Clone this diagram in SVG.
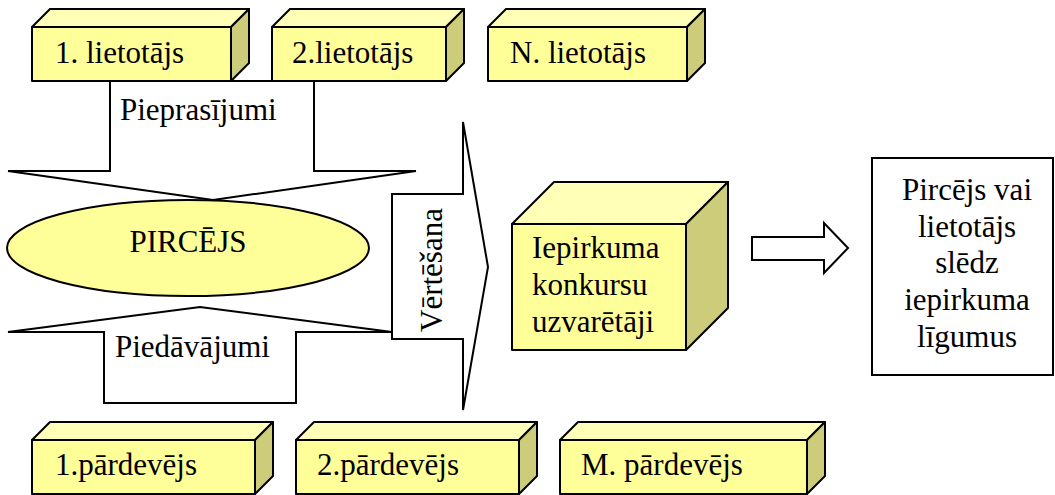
<svg xmlns="http://www.w3.org/2000/svg" width="1055" height="495" viewBox="0 0 1055 495" font-family="'Liberation Serif', Tinos, 'Times New Roman', 'DejaVu Serif', serif">
<style>
text{font-family:'Liberation Serif',Tinos,'Times New Roman','DejaVu Serif',serif;font-size:31px;fill:#000}
.front{fill:#FFFF99;stroke:#000;stroke-width:2;stroke-linejoin:round}
.top{fill:#FFFFB8;stroke:#000;stroke-width:2;stroke-linejoin:round}
.side{fill:#CCCC7A;stroke:#000;stroke-width:2;stroke-linejoin:round}
.shape{fill:#fff;stroke:#000;stroke-width:2;stroke-linejoin:miter}
.mid{text-anchor:middle}
</style>
<rect width="1055" height="495" fill="#fff"/>
<g id="user1">
<polygon class="top" points="32,27 50,9 249,9 231,27"/>
<polygon class="side" points="231,27 249,9 249,63 231,81"/>
<rect class="front" x="32" y="27" width="199" height="54"/>
<text x="55" y="63">1. lietotājs</text>
</g>
<g id="user2">
<polygon class="top" points="272,27 290,9 464,9 446,27"/>
<polygon class="side" points="446,27 464,9 464,63 446,81"/>
<rect class="front" x="272" y="27" width="174" height="54"/>
<text x="292" y="63">2.lietotājs</text>
</g>
<g id="userN">
<polygon class="top" points="488,27 506,9 705,9 687,27"/>
<polygon class="side" points="687,27 705,9 705,63 687,81"/>
<rect class="front" x="488" y="27" width="199" height="54"/>
<text x="510" y="63">N. lietotājs</text>
</g>
<g id="connectors">
<polygon id="requests" class="shape" points="110,81 314,81 314,171 416,171 213,200 8,171 110,171"/>
<polygon id="offers" class="shape" points="104,403 296,403 296,332 392,332 200,307 8,332 104,332"/>
<polygon id="evaluation" class="shape" points="392,194 463,194 463,122 488,267 463,410 463,339 392,339"/>
<polygon id="result-arrow" class="shape" points="752,237 824,237 824,223 848,248 824,273 824,260 752,260"/>
</g>
<text x="120" y="120">Pieprasījumi</text>
<text x="115" y="357">Piedāvājumi</text>
<text class="mid" transform="translate(442,270) rotate(-90)">Vērtēšana</text>
<g id="buyer">
<ellipse cx="188" cy="248" rx="181" ry="48" fill="#FFFF99" stroke="#000" stroke-width="2"/>
<text class="mid" x="188" y="252">PIRCĒJS</text>
</g>
<g id="winners">
<polygon class="top" points="512,224 554,182 728,182 686,224"/>
<polygon class="side" points="686,224 728,182 728,308 686,350"/>
<rect class="front" x="512" y="224" width="174" height="126"/>
<text x="532" y="258">Iepirkuma</text>
<text x="532" y="295">konkursu</text>
<text x="532" y="332">uzvarētāji</text>
</g>
<g id="contract">
<rect class="shape" x="872" y="158" width="181" height="217"/>
<text class="mid" x="967" y="200">Pircējs vai</text>
<text class="mid" x="967" y="237">lietotājs</text>
<text class="mid" x="967" y="273">slēdz</text>
<text class="mid" x="967" y="310">iepirkuma</text>
<text class="mid" x="967" y="347">līgumus</text>
</g>
<g id="seller1">
<polygon class="top" points="32,440 50,422 273,422 255,440"/>
<polygon class="side" points="255,440 273,422 273,476 255,494"/>
<rect class="front" x="32" y="440" width="223" height="54"/>
<text x="55" y="475">1.pārdevējs</text>
</g>
<g id="seller2">
<polygon class="top" points="296,440 314,422 537,422 519,440"/>
<polygon class="side" points="519,440 537,422 537,476 519,494"/>
<rect class="front" x="296" y="440" width="223" height="54"/>
<text x="317" y="475">2.pārdevējs</text>
</g>
<g id="sellerM">
<polygon class="top" points="560,440 578,422 825,422 807,440"/>
<polygon class="side" points="807,440 825,422 825,476 807,494"/>
<rect class="front" x="560" y="440" width="247" height="54"/>
<text x="581" y="475">M. pārdevējs</text>
</g>
</svg>
